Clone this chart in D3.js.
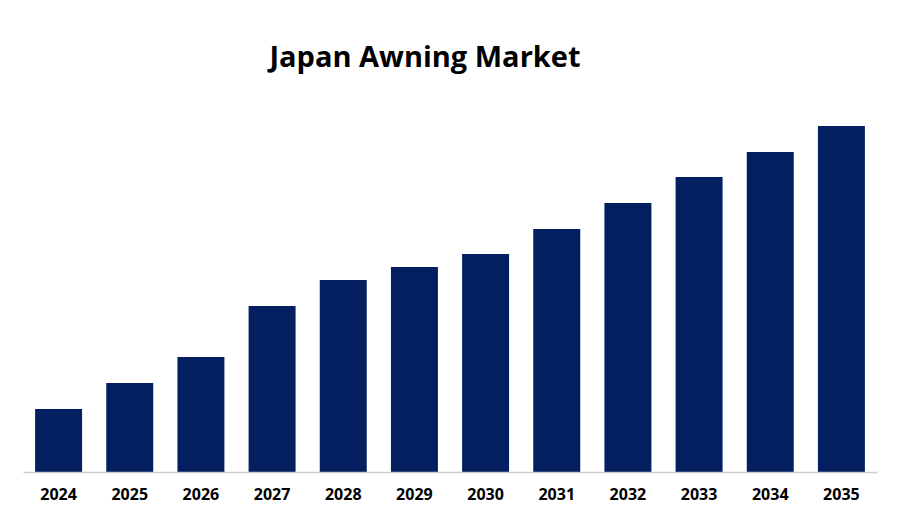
<!DOCTYPE html>
<html><head><meta charset="utf-8">
<script src="https://cdn.jsdelivr.net/npm/d3@7"></script>
<style>body{margin:0;background:#fff}</style></head>
<body><svg id="c" width="900" height="525"></svg>
<script>
const years = ["2024","2025","2026","2027","2028","2029","2030","2031","2032","2033","2034","2035"];
const values = [63, 89, 115, 166, 192, 205, 218, 243, 269, 295, 320, 346];
const title = "Japan Awning Market";

const svg = d3.select("#c");
const x = d3.scaleBand().domain(years).range([23, 877]).paddingInner(0.34).paddingOuter(0.17);
const y = d3.scaleLinear().domain([0, 346]).range([472, 126]);

svg.append("text").attr("x", 425).attr("y", 67).attr("text-anchor", "middle")
  .attr("font-family", "Open Sans, Liberation Sans, sans-serif").attr("font-weight", "bold")
  .attr("font-size", 29).attr("fill", "#000").text(title);

svg.selectAll("rect.bar").data(values).enter().append("rect").attr("class", "bar")
  .attr("x", (d, i) => x(years[i])).attr("width", x.bandwidth())
  .attr("y", d => y(d)).attr("height", d => y(0) - y(d)).attr("fill", "#031f5f");

const ax = svg.append("g").attr("transform", "translate(0,472)")
  .call(d3.axisBottom(x).tickSize(0).tickPadding(17));
ax.select(".domain").attr("stroke", "#d0d0d0").attr("stroke-width", 1.5);
ax.selectAll("text").attr("font-family", "Open Sans, Liberation Sans, sans-serif")
  .attr("font-weight", "bold").attr("font-size", 16).attr("fill", "#000");
</script></body></html>
